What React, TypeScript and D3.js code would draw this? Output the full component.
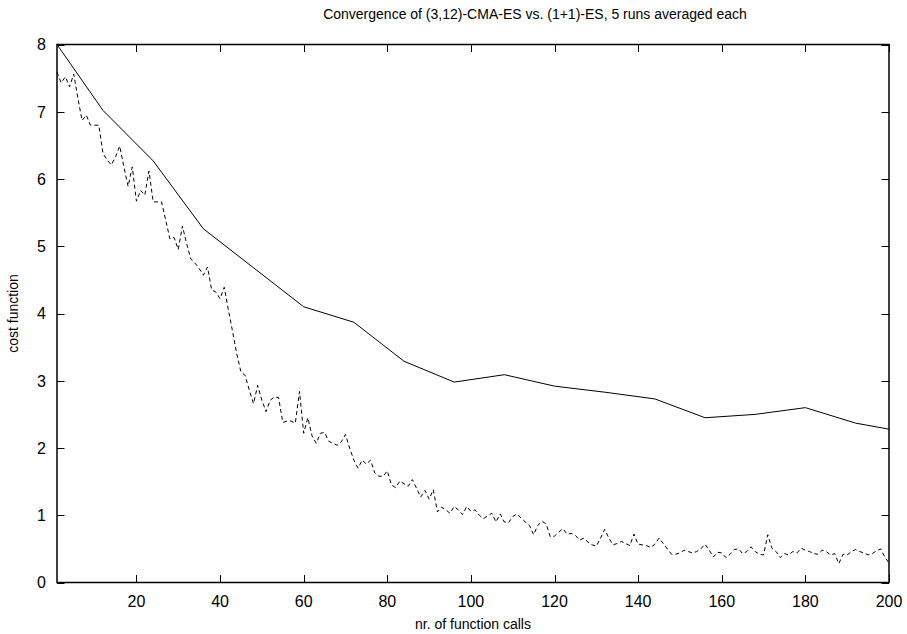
import React from "react";
import * as d3 from "d3";

const TITLE = "Convergence of (3,12)-CMA-ES vs. (1+1)-ES, 5 runs averaged each";
const X_LABEL = "nr. of function calls";
const Y_LABEL = "cost function";

const X_TICKS = [20, 40, 60, 80, 100, 120, 140, 160, 180, 200];
const Y_TICKS = [0, 1, 2, 3, 4, 5, 6, 7, 8];

// (3,12)-CMA-ES: one value per generation of 12 evaluations
const cmaCalls = [1, 12, 24, 36, 48, 60, 72, 84, 96, 108, 120, 132, 144, 156, 168, 180, 192, 200];
const cmaCost = [8.0, 7.02, 6.27, 5.26, 4.68, 4.1, 3.87, 3.29, 2.98, 3.09, 2.92, 2.83, 2.73, 2.45, 2.5, 2.6, 2.37, 2.28];

// (1+1)-ES: one value per function call, x = 1..200
const esCost = [
  7.59, 7.43, 7.52, 7.37, 7.56, 7.2, 6.87, 6.95, 6.8, 6.8,
  6.8, 6.38, 6.28, 6.21, 6.33, 6.49, 6.18, 5.89, 6.18, 5.67,
  5.83, 5.76, 6.12, 5.66, 5.66, 5.66, 5.39, 5.11, 5.13, 4.95,
  5.3, 5.04, 4.81, 4.75, 4.67, 4.57, 4.69, 4.35, 4.32, 4.22,
  4.39, 4.05, 3.73, 3.4, 3.13, 3.08, 2.86, 2.66, 2.93, 2.71,
  2.54, 2.71, 2.76, 2.75, 2.38, 2.4, 2.4, 2.37, 2.84, 2.22,
  2.45, 2.18, 2.07, 2.22, 2.23, 2.1, 2.07, 2.04, 2.09, 2.2,
  2.0, 1.82, 1.7, 1.82, 1.76, 1.82, 1.63, 1.58, 1.58, 1.66,
  1.45, 1.41, 1.51, 1.47, 1.43, 1.53, 1.4, 1.27, 1.37, 1.24,
  1.38, 1.05, 1.12, 1.08, 1.03, 1.13, 1.08, 1.01, 1.13, 1.06,
  1.08, 1.0, 0.95, 0.99, 1.03, 0.9, 1.02, 0.9, 0.89, 0.98,
  1.02, 0.96, 0.9, 0.85, 0.71, 0.85, 0.91, 0.87, 0.68, 0.69,
  0.75, 0.8, 0.72, 0.73, 0.7, 0.63, 0.66, 0.6, 0.56, 0.54,
  0.66, 0.79, 0.66, 0.56, 0.58, 0.61, 0.58, 0.55, 0.72, 0.57,
  0.56, 0.55, 0.52, 0.57, 0.66, 0.58, 0.5, 0.42, 0.42, 0.44,
  0.48, 0.46, 0.44, 0.46, 0.5, 0.57, 0.48, 0.38, 0.45, 0.44,
  0.37, 0.42, 0.49, 0.5, 0.43, 0.46, 0.53, 0.46, 0.42, 0.41,
  0.71, 0.51, 0.46, 0.37, 0.43, 0.41, 0.46, 0.44, 0.51, 0.48,
  0.46, 0.43, 0.42, 0.48, 0.46, 0.41, 0.43, 0.28, 0.42, 0.41,
  0.46, 0.49, 0.46, 0.44, 0.41, 0.43, 0.47, 0.5, 0.38, 0.29,
];

const W = 907;
const H = 634;
const M = { left: 57, right: 907 - 889, top: 44.5, bottom: 634 - 582.5 };
const FONT = "'Liberation Sans', Arial, Helvetica, sans-serif";

export default function App() {
  const x = d3.scaleLinear().domain([1, 200]).range([M.left, W - M.right]);
  const y = d3.scaleLinear().domain([0, 8]).range([H - M.bottom, M.top]);

  const line = d3
    .line<[number, number]>()
    .x((d) => x(d[0]))
    .y((d) => y(d[1]));

  const cmaPts: [number, number][] = cmaCalls.map((c, i) => [c, cmaCost[i]]);
  const esPts: [number, number][] = esCost.map((v, i) => [i + 1, v]);

  const x0 = x.range()[0];
  const x1 = x.range()[1];
  const y0 = y.range()[0];
  const y1 = y.range()[1];
  const tl = 7.5;

  return (
    <svg
      width={W}
      height={H}
      style={{ position: "absolute", left: 0, top: 0, background: "#fff" }}
      fontFamily={FONT}
    >
      <rect x={0} y={0} width={W} height={H} fill="#fff" />
      {/* ticks */}
      <g stroke="#000" strokeWidth={1}>
        {X_TICKS.map((t) => (
          <g key={"xt" + t}>
            <line x1={Math.round(x(t)) + 0.5} x2={Math.round(x(t)) + 0.5} y1={y0} y2={y0 - tl} />
            <line x1={Math.round(x(t)) + 0.5} x2={Math.round(x(t)) + 0.5} y1={y1} y2={y1 + tl} />
          </g>
        ))}
        {Y_TICKS.map((t) => (
          <g key={"yt" + t}>
            <line x1={x0} x2={x0 + tl} y1={Math.round(y(t)) + 0.5} y2={Math.round(y(t)) + 0.5} />
            <line x1={x1} x2={x1 - tl} y1={Math.round(y(t)) + 0.5} y2={Math.round(y(t)) + 0.5} />
          </g>
        ))}
      </g>
      {/* tick labels */}
      <g fontSize={16} fill="#000">
        {X_TICKS.map((t) => (
          <text key={"xl" + t} x={x(t)} y={y0 + 24} textAnchor="middle">
            {t}
          </text>
        ))}
        {Y_TICKS.map((t) => (
          <text key={"yl" + t} x={x0 - 11} y={y(t)} dy="0.36em" textAnchor="end">
            {t}
          </text>
        ))}
      </g>
      {/* data */}
      <path d={line(esPts) || ""} fill="none" stroke="#000" strokeWidth={1} strokeDasharray="4,3" />
      <path d={line(cmaPts) || ""} fill="none" stroke="#000" strokeWidth={1} />
      {/* frame */}
      <rect
        x={x0}
        y={y1}
        width={x1 - x0}
        height={y0 - y1}
        fill="none"
        stroke="#000"
        strokeWidth={1.5}
      />
      {/* titles */}
      <text x={535} y={19} textAnchor="middle" fontSize={14} fill="#000">
        {TITLE}
      </text>
      <text x={(x0 + x1) / 2} y={629} textAnchor="middle" fontSize={14} fill="#000">
        {X_LABEL}
      </text>
      <text
        transform={`translate(18,${(y0 + y1) / 2}) rotate(-90)`}
        textAnchor="middle"
        fontSize={14}
        fill="#000"
      >
        {Y_LABEL}
      </text>
    </svg>
  );
}
